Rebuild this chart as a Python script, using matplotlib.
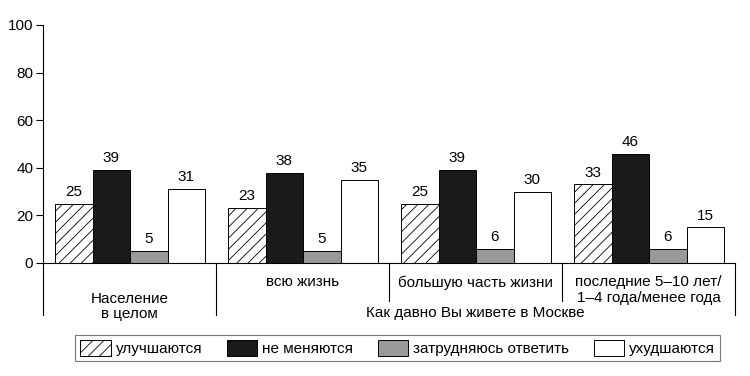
import numpy as np
import matplotlib
matplotlib.use('Agg')
import matplotlib.pyplot as plt
from matplotlib.patches import Patch

plt.rcParams['font.family'] = ['Liberation Sans Narrow', 'Liberation Sans', 'DejaVu Sans']
plt.rcParams['hatch.linewidth'] = 0.6

groups = ["Население\nв целом", "всю жизнь", "большую часть жизни",
          "последние 5–10 лет/\n1–4 года/менее года"]
series = ["улучшаются", "не меняются", "затрудняюсь ответить", "ухудшаются"]
improve = [25, 23, 25, 33]
same = [39, 38, 39, 46]
unsure = [5, 5, 6, 6]
worse = [31, 35, 30, 15]
values = [improve, same, unsure, worse]
subtitle = "Как давно Вы живете в Москве"

faces = ['white', '#1a1a1a', '#999999', 'white']
hatches = ['///', None, None, None]

fig = plt.figure(figsize=(7.5, 3.76), dpi=100)
ax = fig.add_axes([43/750, 1-263/376, 692/750, 238/376])

off = 12/173
w = 37.5/173
x = np.arange(len(groups))
for k, vals in enumerate(values):
    xs = x + off + k*w
    ax.bar(xs, vals, w, align='edge', color=faces[k], edgecolor='black',
           linewidth=0.7, hatch=hatches[k])
    for xi, v in zip(xs, vals):
        ax.text(xi + w/2, v + 2, str(v), ha='center', va='bottom', fontsize=11)

ax.set_xlim(0, 4)
ax.set_ylim(0, 100)
ax.set_yticks([0, 20, 40, 60, 80, 100])
ax.tick_params(axis='y', direction='out', length=5, labelsize=11, pad=2)
ax.set_xticks([])
for s in ['top', 'right']:
    ax.spines[s].set_visible(False)

# separators below axis
tr = ax.get_xaxis_transform()
for xv, y1 in [(0, -0.22), (1, -0.22), (2, -0.16), (3, -0.16), (4, -0.22)]:
    ax.plot([xv, xv], [0, y1], transform=tr, color='black', lw=0.8, clip_on=False)

ax.text(0.5, -0.12, groups[0], transform=tr, ha='center', va='top',
        fontsize=11, linespacing=1.15)
for i in range(1, 4):
    ax.text(i + 0.5, -0.052, groups[i], transform=tr, ha='center', va='top',
            fontsize=11, linespacing=1.15)
ax.text(2.5, -0.182, subtitle, transform=tr, ha='center', va='top', fontsize=11)

handles = [Patch(facecolor=faces[k], edgecolor='black', hatch=hatches[k], lw=0.7)
           for k in range(4)]
leg = fig.legend(handles, series, ncol=4, loc='center', mode='expand',
                 bbox_to_anchor=(75/750, 1-363/376, 645/750, 30/376),
                 fontsize=11, frameon=True, fancybox=False,
                 handlelength=2.0, handleheight=1.2, handletextpad=0.3,
                 borderaxespad=0, borderpad=0.35)
leg.get_frame().set_edgecolor('#555555')
leg.get_frame().set_linewidth(0.8)

fig.savefig('out.png', dpi=100)
